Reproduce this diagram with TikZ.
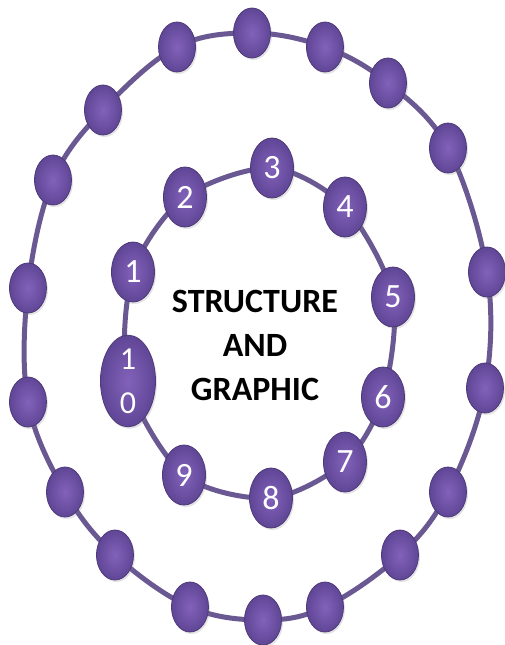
\documentclass[tikz,border=0pt]{standalone}
\usepackage{fontspec}
\setmainfont{Carlito}
\usetikzlibrary{shapes.geometric,shadows}
\definecolor{beadlight}{RGB}{130,98,186}
\definecolor{beaddark}{RGB}{96,70,150}
\definecolor{beadedge}{RGB}{78,58,120}
\definecolor{wire}{RGB}{106,88,146}
\tikzset{
  bead/.style={ellipse, minimum width=37pt, minimum height=50pt, inner sep=0pt,
    draw=beadedge, line width=0.8pt, inner color=beadlight, outer color=beaddark,
    drop shadow={opacity=0.22, shadow xshift=1.5pt, shadow yshift=-2pt}},
  numbead/.style={bead, minimum width=43pt, minimum height=60pt, text=white,
    font=\fontsize{34}{34}\selectfont},
  wireline/.style={draw=wire, line width=5pt},
  title/.style={align=center, text=black, font=\bfseries\fontsize{34}{44}\selectfont}
}
\begin{document}
\begin{tikzpicture}[x=1pt,y=-1pt]
\useasboundingbox (0,0) rectangle (505,645);
% outer ring positions
\coordinate (p1) at (177,47);
\coordinate (p2) at (252,33);
\coordinate (p3) at (325,47);
\coordinate (p4) at (388,83);
\coordinate (p5) at (448,148);
\coordinate (p6) at (487,272);
\coordinate (p7) at (485,388);
\coordinate (p8) at (448,492);
\coordinate (p9) at (400,555);
\coordinate (p10) at (325,607);
\coordinate (p11) at (263,620);
\coordinate (p12) at (190,607);
\coordinate (p13) at (115,555);
\coordinate (p14) at (65,492);
\coordinate (p15) at (28,402);
\coordinate (p16) at (28,288);
\coordinate (p17) at (53,180);
\coordinate (p18) at (103,110);
% inner ring positions
\coordinate (q1) at (133,272);
\coordinate (q2) at (185,197);
\coordinate (q3) at (272,168);
\coordinate (q4) at (345,207);
\coordinate (q5) at (393,297);
\coordinate (q6) at (383,397);
\coordinate (q7) at (345,462);
\coordinate (q8) at (271,498);
\coordinate (q9) at (184,475);
\coordinate (q10) at (128,381);
% wires
\draw[wireline] plot[smooth cycle, tension=0.6] coordinates {(p1) (p2) (p3) (p4) (p5) (p6) (p7) (p8) (p9) (p10) (p11) (p12) (p13) (p14) (p15) (p16) (p17) (p18)};
\draw[wireline] plot[smooth cycle, tension=0.5] coordinates {(q1) (q2) (q3) (q4) (q5) (q6) (q7) (q8) (q9) (q10)};
% outer beads
\foreach \i in {1,...,18} {
  \node[bead] (o\i) at (p\i) {};
}
% inner beads
\node[numbead] (n1) at (q1) {1};
\node[numbead] (n2) at (q2) {2};
\node[numbead] (n3) at (q3) {3};
\node[numbead] (n4) at (q4) {4};
\node[numbead] (n5) at (q5) {5};
\node[numbead] (n6) at (q6) {6};
\node[numbead] (n7) at (q7) {7};
\node[numbead] (n8) at (q8) {8};
\node[numbead] (n9) at (q9) {9};
\node[numbead, minimum width=55pt, minimum height=74pt, align=center,
  font=\fontsize{32}{44}\selectfont] (n10) at (q10) {1\\0};
% title
\node[title] (t) at (255,345) {STRUCTURE\\AND\\GRAPHIC};
\end{tikzpicture}
\end{document}
